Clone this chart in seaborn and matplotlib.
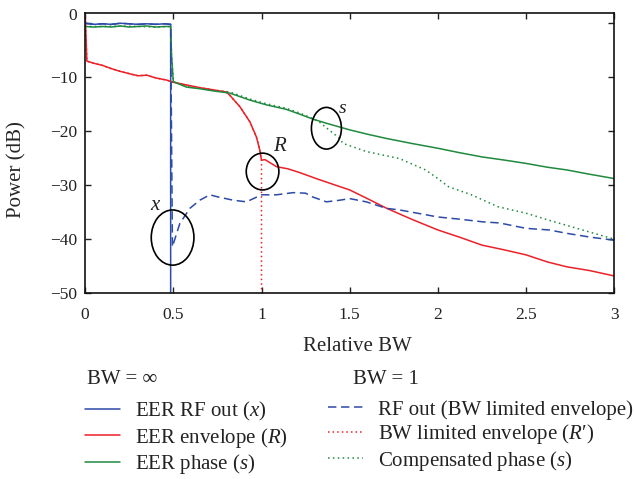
import matplotlib
matplotlib.use("Agg")
import matplotlib.pyplot as plt
import matplotlib.transforms as mtransforms
import seaborn as sns
import pandas as pd
from matplotlib.patches import Ellipse

# ---------------- data ----------------
# BW = infinity
rf_x = [0, 0.05, 0.1, 0.15, 0.2, 0.25, 0.3, 0.35, 0.4, 0.45, 0.485, 0.485]
rf_y = [-0.1, -0.3, -0.2, -0.3, -0.1, -0.2, -0.3, -0.2, -0.3, -0.2, -0.3, -60]

env_x = [0, 0.01, 0.05, 0.1, 0.15, 0.2, 0.273, 0.3, 0.35, 0.4, 0.462, 0.5, 0.575, 0.65,
         0.726, 0.8, 0.82, 0.877, 0.934, 0.971, 0.99, 1.0, 1.02, 1.085, 1.15, 1.217, 1.31,
         1.4, 1.5, 1.6, 1.71, 1.85, 2.0, 2.12, 2.25, 2.38, 2.5, 2.62, 2.73, 2.86, 3.0]
env_y = [2, -7.1, -7.5, -7.9, -8.5, -9.0, -9.6, -9.8, -9.7, -10.2, -10.6, -11.0, -11.5, -12.0,
         -12.4, -12.8, -13.4, -15.5, -18.3, -21.1, -23.5, -25.4, -25.3, -26.6, -27.0, -27.7, -28.8,
         -29.8, -30.9, -32.5, -34.3, -36.3, -38.3, -39.6, -41.1, -42.0, -42.9, -44.2, -45.1, -45.8, -46.8]

ph_x = [0, 0.05, 0.1, 0.15, 0.2, 0.25, 0.3, 0.35, 0.4, 0.45, 0.485, 0.49, 0.5, 0.575, 0.65,
        0.726, 0.82, 0.934, 1.03, 1.14, 1.217, 1.29, 1.37, 1.5, 1.6, 1.71, 1.85, 2.0, 2.12,
        2.25, 2.38, 2.5, 2.62, 2.73, 2.86, 3.0]
ph_y = [-0.7, -0.8, -0.7, -0.8, -0.6, -0.8, -0.7, -0.6, -0.8, -0.7, -0.7, -6.0, -10.9, -11.9, -12.2,
        -12.6, -13.0, -14.3, -15.2, -16.0, -16.9, -17.8, -18.6, -19.8, -20.6, -21.4, -22.3, -23.2, -24.0,
        -24.8, -25.4, -26.0, -26.7, -27.2, -28.0, -28.8]

# BW = 1
rfbw_x = [0, 0.05, 0.1, 0.15, 0.2, 0.25, 0.3, 0.35, 0.4, 0.45, 0.485, 0.495, 0.537, 0.594,
          0.65, 0.707, 0.754, 0.84, 0.915, 1.0, 1.085, 1.18, 1.25, 1.29, 1.368, 1.443, 1.5,
          1.594, 1.708, 1.783, 1.934, 2.0, 2.123, 2.255, 2.349, 2.5, 2.632, 2.727, 2.859, 3.0]
rfbw_y = [-0.1, -0.3, -0.2, -0.3, -0.1, -0.2, -0.3, -0.2, -0.3, -0.2, -0.3, -41.4, -37.1, -34.3,
          -32.8, -31.8, -32.2, -32.8, -33.1, -31.8, -31.8, -31.4, -31.5, -32.2, -33.1, -32.8, -32.5,
          -33.1, -34.3, -34.6, -35.5, -35.9, -36.3, -36.8, -37.0, -38.0, -38.3, -38.9, -39.6, -40.2]

envbw_x = [0, 0.01, 0.05, 0.1, 0.15, 0.2, 0.273, 0.3, 0.35, 0.4, 0.462, 0.5, 0.575, 0.65,
           0.726, 0.8, 0.82, 0.877, 0.934, 0.971, 0.99, 1.0, 1.0]
envbw_y = [2, -7.1, -7.5, -7.9, -8.5, -9.0, -9.6, -9.8, -9.7, -10.2, -10.6, -11.0, -11.5, -12.0,
           -12.4, -12.8, -13.4, -15.5, -18.3, -21.1, -23.5, -25.4, -60]

comp_x = [0, 0.1, 0.2, 0.3, 0.4, 0.485, 0.49, 0.5, 0.575, 0.65, 0.726, 0.82, 0.934, 1.03,
          1.14, 1.217, 1.29, 1.33, 1.39, 1.44, 1.462, 1.594, 1.782, 1.93, 2.0, 2.06, 2.19,
          2.34, 2.5, 2.63, 2.82, 3.0]
comp_y = [-0.7, -0.7, -0.6, -0.7, -0.8, -0.7, -6.0, -10.9, -11.8, -12.1, -12.5, -12.8, -14.1, -15.0,
          -15.8, -16.7, -17.7, -18.4, -20.0, -21.3, -22.3, -23.8, -25.1, -27.2, -28.8, -30.3, -31.8,
          -34.0, -35.2, -36.5, -38.3, -40.0]

labels_inf = ["EER RF out ($x$)", "EER envelope ($R$)", "EER phase ($s$)"]
labels_bw1 = ["RF out (BW limited envelope)", "BW limited envelope ($R$\u2032)", "Compensated phase ($s$)"]
header_inf = "BW = ∞"
header_bw1 = "BW = 1"
xticks = [0, 0.5, 1, 1.5, 2, 2.5, 3]
xticklabels = ["0", "0.5", "1", "1.5", "2", "2.5", "3"]
yticks = [0, -10, -20, -30, -40, -50]
yticklabels = ["0", "\u221210", "\u221220", "\u221230", "\u221240", "\u221250"]

# ---------------- style ----------------
sns.set_style("ticks")
plt.rcParams["font.family"] = ["Liberation Serif", "DejaVu Serif"]
plt.rcParams["mathtext.fontset"] = "custom"
plt.rcParams["mathtext.rm"] = "Liberation Serif"
plt.rcParams["mathtext.it"] = "Liberation Serif:italic"
plt.rcParams["text.color"] = "#222222"

BLUE = "#2c4aa8"
RED = "#ec2028"
GREEN = "#1e8a3e"

W, H = 634, 479
fig = plt.figure(figsize=(W / 100, H / 100), dpi=100)
ax = fig.add_axes([85.1 / W, 1 - 293.3 / H, (614.3 - 85.1) / W, (293.3 - 12.7) / H])

def line(xs, ys, color, ls, label):
    df = pd.DataFrame({"x": xs, "y": ys})
    sns.lineplot(data=df, x="x", y="y", ax=ax, sort=False, estimator=None,
                 color=color, linestyle=ls, linewidth=1.1, label=label)

line(envbw_x, envbw_y, RED, (0, (1, 2)), labels_bw1[1])
line(comp_x, comp_y, GREEN, (0, (1, 2.2)), labels_bw1[2])
line(rf_x, rf_y, BLUE, "-", labels_inf[0])
line(env_x, env_y, RED, "-", labels_inf[1])
line(ph_x, ph_y, GREEN, "-", labels_inf[2])
line(rfbw_x, rfbw_y, BLUE, (0, (5.5, 3)), labels_bw1[0])

ax.set_xlim(0, 3)
ax.set_ylim(-50, 1.85)
ax.set_xticks(xticks)
ax.set_xticklabels(xticklabels)
ax.set_yticks(yticks)
ax.set_yticklabels(yticklabels)
ax.tick_params(direction="in", top=True, right=True, length=4, width=1,
               labelsize=12.5, colors="#222222")
ax.tick_params(axis="x", pad=10)
ax.tick_params(axis="y", pad=6)
for sp in ax.spines.values():
    sp.set_visible(True)
    sp.set_linewidth(1.2)
    sp.set_color("#111111")

# the "0" label sits at the top edge of the frame in the reference
zero_lab = ax.yaxis.get_major_ticks()[0].label1
zero_lab.set_transform(zero_lab.get_transform() +
                       mtransforms.ScaledTranslation(0, 8.5 / 100, fig.dpi_scale_trans))

ax.set_xlabel("Relative BW", fontsize=15)
ax.set_ylabel("Power (dB)", fontsize=15)
ax.xaxis.set_label_coords(0.515, -0.155)
ax.yaxis.set_label_coords(-0.11, 0.44)

# annotation ellipses
for (cx, cy, w, h) in [(0.496, -39.7, 0.242, 10.2), (1.006, -27.5, 0.185, 6.8), (1.368, -19.5, 0.17, 7.7)]:
    ax.add_patch(Ellipse((cx, cy), w, h, fill=False, edgecolor="black", linewidth=1.2, zorder=5))
ax.text(0.395, -33.7, "x", style="italic", fontsize=15, ha="center", va="center")
ax.text(1.104, -22.9, "R", style="italic", fontsize=15, ha="center", va="center")
ax.text(1.462, -15.8, "s", style="italic", fontsize=14, ha="center", va="center")

# legends
handles, labs = ax.get_legend_handles_labels()
hmap = dict(zip(labs, handles))
ax.get_legend().remove()
leg1 = fig.legend([hmap[l] for l in labels_inf], labels_inf, loc="upper left",
                  bbox_to_anchor=(85 / W, 1 - 400 / H), frameon=False, fontsize=15,
                  handlelength=1.7, handletextpad=0.7, labelspacing=0.12,
                  borderpad=0, borderaxespad=0)
leg2 = fig.legend([hmap[l] for l in labels_bw1], labels_bw1, loc="upper left",
                  bbox_to_anchor=(328 / W, 1 - 400 / H), frameon=False, fontsize=15,
                  handlelength=1.7, handletextpad=0.7, labelspacing=0.12,
                  borderpad=0, borderaxespad=0)
fig.text(87 / W, 1 - 379 / H, header_inf, fontsize=15, ha="left", va="center")
fig.text(353 / W, 1 - 379 / H, header_bw1, fontsize=15, ha="left", va="center")

fig.savefig("out.png", dpi=100)
